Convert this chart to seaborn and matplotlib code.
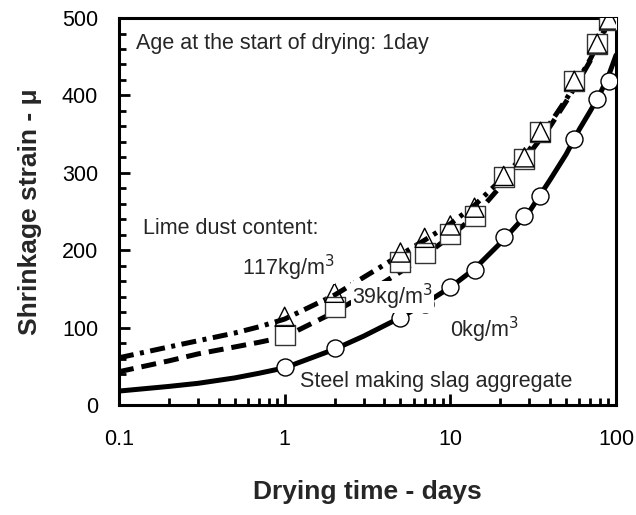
import numpy as np
import pandas as pd
import matplotlib
matplotlib.use('Agg')
import matplotlib.pyplot as plt
import seaborn as sns
from matplotlib.ticker import MultipleLocator, LogLocator, NullFormatter

# measured shrinkage (marker points)
days = [1, 2, 5, 7, 10, 14, 21, 28, 35, 56, 77, 91]
lime_0 = [49, 74, 113, 130, 152, 175, 217, 244, 270, 344, 396, 418]
lime_39 = [91, 126, 185, 196, 221, 244, 294, 318, 353, 419, 467, 497]
lime_117 = [114, 145, 197, 216, 232, 255, 296, 320, 353, 419, 467, 498]

# fitted curves
fit_days = [0.1, 0.2, 0.3, 0.5, 0.7, 1, 2, 3, 5, 7, 10, 14, 20, 30, 40, 50, 60, 70, 80, 90, 100]
fit_0 = [18, 24, 28, 35, 41, 48, 72, 89, 113, 131, 152, 176, 209, 250, 291, 324, 356, 380, 402, 425, 452]
fit_39 = [43, 57, 66, 75, 81, 88, 120, 142, 172, 193, 218, 244, 282, 325, 360, 392, 420, 445, 470, 495, 520]
fit_117 = [61, 75, 83, 93, 101, 111, 142, 165, 194, 213, 234, 258, 290, 330, 364, 395, 422, 447, 472, 496, 520]

sns.set_style('ticks')
plt.rcParams['font.family'] = ['Liberation Sans', 'DejaVu Sans']

fig = plt.figure(figsize=(6.36, 5.15), dpi=100)
ax = fig.add_axes([0.187, 0.2136, 0.7816, 0.7514])

fits = pd.DataFrame({'t': fit_days, 'f0': fit_0, 'f39': fit_39, 'f117': fit_117})
sns.lineplot(data=fits, x='t', y='f0', ax=ax, color='black', lw=3.6, zorder=2)
sns.lineplot(data=fits, x='t', y='f39', ax=ax, color='black', lw=3.6,
             linestyle=(0, (3, 1.6)), zorder=2)
sns.lineplot(data=fits, x='t', y='f117', ax=ax, color='black', lw=3.6,
             linestyle=(0, (3, 1.3, 0.8, 1.3)), zorder=2)

pts = pd.DataFrame({'t': days, 'p0': lime_0, 'p39': lime_39, 'p117': lime_117})
sns.scatterplot(data=pts, x='t', y='p0', ax=ax, marker='o', s=150,
                facecolor='white', edgecolor='black', linewidth=1, zorder=3)
sns.scatterplot(data=pts, x='t', y='p39', ax=ax, marker='s', s=200,
                facecolor='white', edgecolor='#333333', linewidth=1, zorder=3)
sns.scatterplot(data=pts, x='t', y='p117', ax=ax, marker='^', s=190,
                facecolor='none', edgecolor='black', linewidth=1, zorder=4)

ax.set_xscale('log')
ax.set_xlim(0.1, 100)
ax.set_ylim(0, 500)
ax.set_xticks([0.1, 1, 10, 100])
ax.set_xticklabels(['0.1', '1', '10', '100'])
ax.xaxis.set_minor_locator(LogLocator(base=10, subs=np.arange(2, 10)))
ax.xaxis.set_minor_formatter(NullFormatter())
ax.yaxis.set_major_locator(MultipleLocator(100))
ax.yaxis.set_minor_locator(MultipleLocator(20))

for s in ax.spines.values():
    s.set_linewidth(2.2)
    s.set_color('black')
ax.tick_params(which='both', direction='in', width=2, colors='black',
               top=False, right=False, labelsize=15.5)
ax.tick_params(which='major', length=8)
ax.tick_params(which='minor', length=5)
ax.tick_params(axis='x', pad=17)
ax.tick_params(axis='y', pad=15)

ax.set_xlabel('Drying time - days', fontsize=19, fontweight='bold', labelpad=22)
ax.set_ylabel('Shrinkage strain - μ', fontsize=19, fontweight='bold', labelpad=14)

box = dict(facecolor='white', edgecolor='none', pad=0.5)
fs = 15.5
ax.text(0.034, 0.935, 'Age at the start of drying: 1day', transform=ax.transAxes,
        fontsize=fs, va='center', ha='left', zorder=5)
ax.text(0.048, 0.457, 'Lime dust content:', transform=ax.transAxes,
        fontsize=fs, va='center', ha='left', zorder=5)
ax.text(0.247, 0.354, '117kg/m$^3$', transform=ax.transAxes,
        fontsize=fs, va='center', ha='left', bbox=box, zorder=5)
ax.text(0.469, 0.279, '39kg/m$^3$', transform=ax.transAxes,
        fontsize=fs, va='center', ha='left', bbox=box, zorder=5)
ax.text(0.666, 0.194, '0kg/m$^3$', transform=ax.transAxes,
        fontsize=fs, va='center', ha='left', bbox=box, zorder=5)
ax.text(0.364, 0.062, 'Steel making slag aggregate', transform=ax.transAxes,
        fontsize=fs, va='center', ha='left', bbox=box, zorder=5)

fig.savefig('out.png', dpi=100)
